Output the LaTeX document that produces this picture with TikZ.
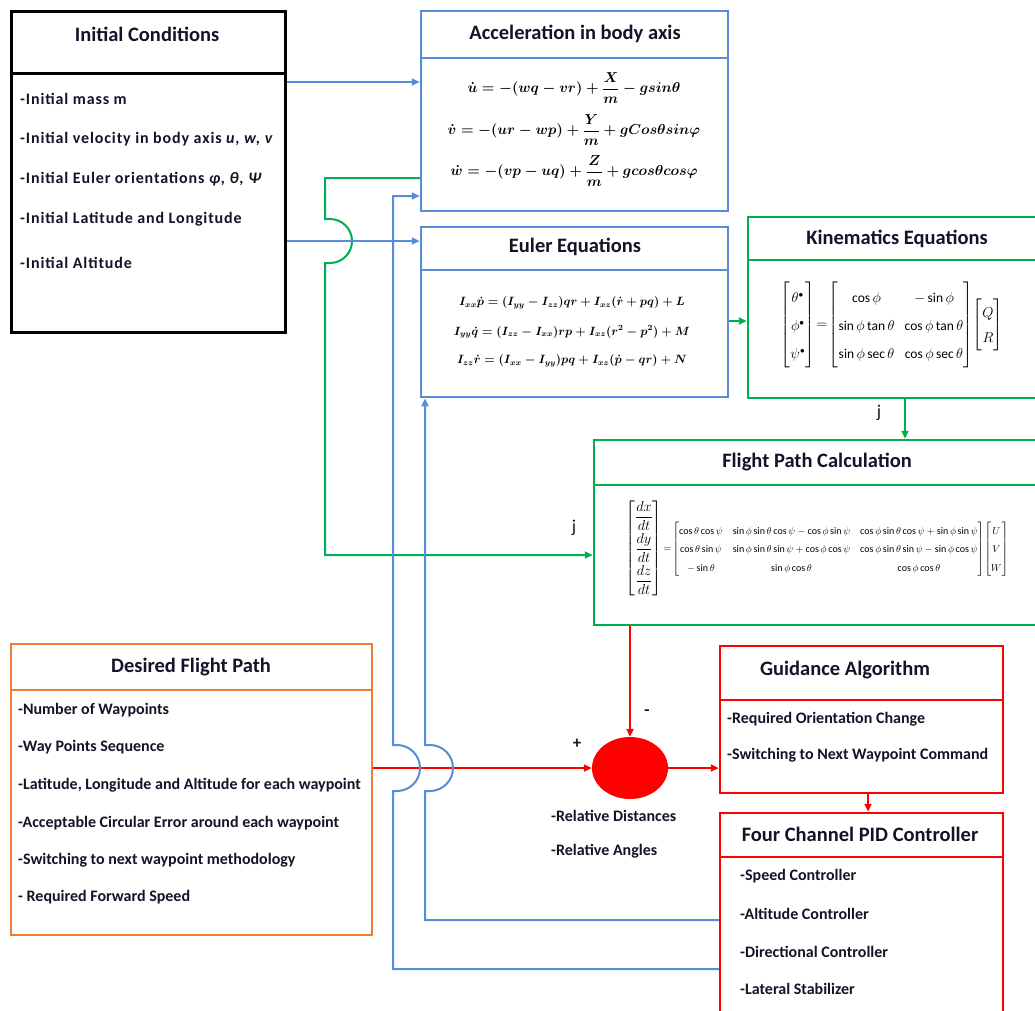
\documentclass[tikz,border=0pt]{standalone}
\usepackage{amsmath}
\usepackage{fontspec}
\setmainfont{Carlito}
\usetikzlibrary{arrows.meta,shapes.geometric}
\definecolor{blueC}{RGB}{88,140,214}
\definecolor{greenC}{RGB}{0,176,80}
\definecolor{orangeC}{RGB}{237,125,49}
\definecolor{redC}{RGB}{255,0,0}
\definecolor{txtC}{RGB}{20,20,40}
\newcommand{\eqfont}{\fontsize{14.5}{17}\selectfont\boldmath}
\newcommand{\stretchmat}[2]{{\renewcommand{\arraystretch}{#1}#2}}
\begin{document}
\begin{tikzpicture}[x=1pt,y=-1pt,
  boxC/.style={draw, line width=2.5pt, inner sep=0pt},
  divC/.style={line width=2pt},
  ttl/.style={font=\fontsize{20.5}{24}\selectfont\bfseries, text=txtC},
  itm/.style={font=\fontsize{16}{19}\selectfont\bfseries, text=txtC, anchor=west, inner sep=0pt},
  initm/.style={itm, font=\fontsize{16}{19}\selectfont\bfseries\addfontfeature{LetterSpace=5.5}},
  sgn/.style={font=\fontsize{17}{19}\selectfont\bfseries, text=txtC},
  tip/.style={-{Triangle[length=8pt,width=7pt]}},
  bl/.style={draw=blueC, line width=2pt},
  gr/.style={draw=greenC, line width=2pt},
  rd/.style={draw=redC, line width=2pt},
  eqa/.style={text=black, inner sep=0pt, font=\eqfont},
  eqb/.style={text=black, inner sep=0pt, font=\fontsize{11.8}{14}\selectfont\boldmath}]
\clip (0,0) rectangle (1035,1010);
\fill[white] (0,0) rectangle (1035,1010);

% ---------- boxes ----------
\node[boxC, draw=black, line width=3pt, minimum width=274pt, minimum height=321pt] (init) at (148,171.5) {};
\draw[divC, line width=3pt] (init.west |- 0,73) -- (init.east |- 0,73);
\node[ttl] (initT) at (147,34) {Initial Conditions};
\node[initm] (i1) at (20,99) {-Initial mass m};
\node[initm] (i2) at (20,139) {-Initial velocity in body axis \textit{u, w, v}};
\node[initm] (i3) at (20,179) {-Initial Euler orientations \textit{φ, θ, Ψ}};
\node[initm] (i4) at (20,219) {-Initial Latitude and Longitude};
\node[initm] (i5) at (20,263) {-Initial Altitude};

\node[boxC, draw=blueC, minimum width=307pt, minimum height=200pt] (acc) at (574.5,111) {};
\draw[divC, draw=blueC] (acc.west |- 0,58) -- (acc.east |- 0,58);
\node[ttl] (accT) at (575,34) {Acceleration in body axis};
\node[eqa] (accE1) at (574,88) {$\dot u = -(wq-vr)+\dfrac{X}{m}-gsin\theta$};
\node[eqa] (accE2) at (574,130) {$\dot v = -(ur-wp)+\dfrac{Y}{m}+gCos\theta sin\varphi$};
\node[eqa] (accE3) at (574,171) {$\dot w = -(vp-uq)+\dfrac{Z}{m}+gcos\theta cos\varphi$};

\node[boxC, draw=blueC, minimum width=307pt, minimum height=170pt] (euler) at (574.5,312) {};
\draw[divC, draw=blueC] (euler.west |- 0,270) -- (euler.east |- 0,270);
\node[ttl] (eulerT) at (575,247) {Euler Equations};
\node[eqb] (eulerE1) at (572,303) {$I_{xx}\dot p = (I_{yy}-I_{zz})qr + I_{xz}(\dot r + pq) + L$};
\node[eqb] (eulerE2) at (572,332) {$I_{yy}\dot q = (I_{zz}-I_{xx})rp + I_{xz}(r^2 - p^2) + M$};
\node[eqb] (eulerE3) at (572,361) {$I_{zz}\dot r = (I_{xx}-I_{yy})pq + I_{xz}(\dot p - qr) + N$};

\node[boxC, draw=greenC, minimum width=292pt, minimum height=181pt] (kin) at (894,307.5) {};
\draw[divC, draw=greenC] (kin.west |- 0,260) -- (kin.east |- 0,260);
\node[ttl] (kinT) at (897,239) {Kinematics Equations};
\node[text=black, inner sep=0pt, font=\fontsize{13.5}{16}\selectfont] (kinE) at (892,325) {$\stretchmat{1.75}{\begin{bmatrix}\theta^{\bullet}\\ \phi^{\bullet}\\ \psi^{\bullet}\end{bmatrix}}\!=\!\stretchmat{1.75}{\begin{bmatrix}\cos\phi & -\sin\phi\\ \sin\phi\tan\theta & \cos\phi\tan\theta\\ \sin\phi\sec\theta & \cos\phi\sec\theta\end{bmatrix}}\stretchmat{1.6}{\begin{bmatrix}Q\\ R\end{bmatrix}}$};

\node[boxC, draw=greenC, minimum width=446pt, minimum height=185pt] (fpc) at (817,532.5) {};
\draw[divC, draw=greenC] (fpc.west |- 0,485) -- (fpc.east |- 0,485);
\node[ttl] (fpcT) at (817,462) {Flight Path Calculation};
\node[text=black, inner sep=0pt, font=\fontsize{10}{12}\selectfont] (fpcE) at (817,548) {$\mbox{\fontsize{14.5}{17}\selectfont$\stretchmat{1.0}{\begin{bmatrix}\dfrac{dx}{dt}\\[7pt] \dfrac{dy}{dt}\\[7pt] \dfrac{dz}{dt}\end{bmatrix}}$}\!=\!\stretchmat{1.55}{\begin{bmatrix}\cos\theta\cos\psi & \sin\phi\sin\theta\cos\psi-\cos\phi\sin\psi & \cos\phi\sin\theta\cos\psi+\sin\phi\sin\psi\\ \cos\theta\sin\psi & \sin\phi\sin\theta\sin\psi+\cos\phi\cos\psi & \cos\phi\sin\theta\sin\psi-\sin\phi\cos\psi\\ -\sin\theta & \sin\phi\cos\theta & \cos\phi\cos\theta\end{bmatrix}}\stretchmat{1.55}{\begin{bmatrix}U\\ V\\ W\end{bmatrix}}$};

\node[boxC, draw=orangeC, minimum width=361pt, minimum height=291pt] (dfp) at (191.5,789.5) {};
\draw[divC, draw=orangeC] (dfp.west |- 0,690) -- (dfp.east |- 0,690);
\node[ttl] (dfpT) at (191,667) {Desired Flight Path};
\node[itm] (d1) at (18,710) {-Number of Waypoints};
\node[itm] (d2) at (18,747) {-Way Points Sequence};
\node[itm] (d3) at (18,785) {-Latitude, Longitude and Altitude for each waypoint};
\node[itm] (d4) at (18,823) {-Acceptable Circular Error around each waypoint};
\node[itm] (d5) at (18,860) {-Switching to next waypoint methodology};
\node[itm] (d6) at (18,897) {- Required Forward Speed};

\node[boxC, draw=redC, minimum width=283pt, minimum height=147pt] (gui) at (861.5,719.5) {};
\draw[divC, draw=redC] (gui.west |- 0,700) -- (gui.east |- 0,700);
\node[ttl] (guiT) at (845,670) {Guidance Algorithm};
\node[itm] (g1) at (727,719) {-Required Orientation Change};
\node[itm] (g2) at (727,755) {-Switching to Next Waypoint Command};

\node[boxC, draw=redC, minimum width=283pt, minimum height=207pt] (pid) at (861.5,916.5) {};
\draw[divC, draw=redC] (pid.west |- 0,857) -- (pid.east |- 0,857);
\node[ttl] (pidT) at (860,834) {Four Channel PID Controller};
\node[itm] (p1) at (740,876) {-Speed Controller};
\node[itm] (p2) at (740,914) {-Altitude Controller};
\node[itm] (p3) at (740,952) {-Directional Controller};
\node[itm] (p4) at (740,989) {-Lateral Stabilizer};

% ---------- summing junction ----------
\node[ellipse, fill=redC, minimum width=76pt, minimum height=62pt, inner sep=0pt] (sum) at (630,768) {};
\node[sgn] (plus) at (577,744) {+};
\node[sgn] (minus) at (647,713) {-};
\node[itm] (r1) at (551,816) {-Relative Distances};
\node[itm] (r2) at (551,851) {-Relative Angles};

% stray marks
\node[font=\fontsize{18}{20}\selectfont, text=txtC] (j1) at (879,413) {j};
\node[font=\fontsize{18}{20}\selectfont, text=txtC] (j2) at (574,528) {j};

% ---------- connectors ----------
\draw[bl,tip] (init.east |- 0,82) -- (acc.west |- 0,82);
\draw[gr,tip] (acc.west |- 0,178) -- (325,178) -- (325,219) -- (330,219)
  arc[start angle=90,end angle=-90,radius=22pt] -- (325,263) -- (325,555) -- (fpc.west |- 0,555);
\draw[bl,tip] (init.east |- 0,241) -- (euler.west |- 0,241);
\draw[gr,tip] (euler.east |- 0,321) -- (kin.west |- 0,321);
\draw[gr,tip] (kin.south -| 905,0) -- (fpc.north -| 905,0);
\draw[rd,tip] (fpc.south -| sum.north) -- (sum.north);
\draw[rd,tip] (dfp.east |- sum.west) -- (sum.west);
\draw[rd,tip] (sum.east) -- (gui.west |- sum.east);
\draw[rd,tip] (gui.south -| 868,0) -- (pid.north -| 868,0);
\draw[bl,tip] (pid.west |- 0,920) -- (425,920) -- (425,791) -- (430,791)
  arc[start angle=-90,end angle=90,radius=23pt] -- (425,745) -- (euler.south -| 425,0);
\draw[bl,tip] (pid.west |- 0,969) -- (393,969) -- (393,791) -- (397,791)
  arc[start angle=-90,end angle=90,radius=23pt] -- (393,745) -- (393,196) -- (acc.west |- 0,196);
\end{tikzpicture}
\end{document}
